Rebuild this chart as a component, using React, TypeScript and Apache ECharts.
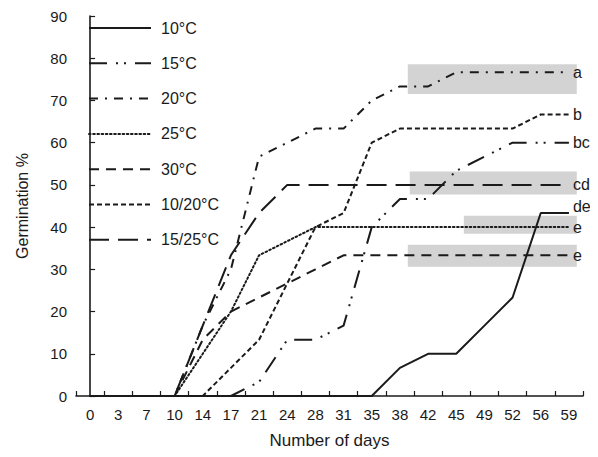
import React, { useEffect, useRef } from "react";
import * as echarts from "echarts";

const days = ["0", "3", "7", "10", "14", "17", "21", "24", "28", "31", "35", "38", "42", "45", "49", "52", "56", "59"];
const yTicks = [0, 10, 20, 30, 40, 50, 60, 70, 80, 90];

const t10 = [0, 0, 0, 0, 0, 0, 0, 0, 0, 0, 0, 6.67, 10, 10, 16.67, 23.33, 43.33, 43.33];
const t15 = [0, 0, 0, 0, 0, 0, 3.33, 13.33, 13.33, 16.67, 40, 46.67, 46.67, 53.33, 56.67, 60, 60, 60];
const t20 = [0, 0, 0, 0, 16.67, 30, 56.67, 60, 63.33, 63.33, 70, 73.33, 73.33, 76.67, 76.67, 76.67, 76.67, 76.67];
const t25 = [0, 0, 0, 0, 10, 20, 33.33, 36.67, 40, 40, 40, 40, 40, 40, 40, 40, 40, 40];
const t30 = [0, 0, 0, 0, 13.33, 20, 23.33, 26.67, 30, 33.33, 33.33, 33.33, 33.33, 33.33, 33.33, 33.33, 33.33, 33.33];
const t1020 = [0, 0, 0, 0, 0, 6.67, 13.33, 26.67, 40, 43.33, 60, 63.33, 63.33, 63.33, 63.33, 63.33, 66.67, 66.67];
const t1525 = [0, 0, 0, 0, 16.67, 33.33, 43.33, 50, 50, 50, 50, 50, 50, 50, 50, 50, 50, 50];

const seriesNames = ["10°C", "15°C", "20°C", "25°C", "30°C", "10/20°C", "15/25°C"];
const seriesData = [t10, t15, t20, t25, t30, t1020, t1525];
const letters = ["de", "bc", "a", "e", "e", "b", "cd"];

// grey highlight boxes: [xStart, xEnd] in category index units, [yLow, yHigh] in %
const boxX = [
  [11.28, 17.28],
  [11.35, 17.28],
  [13.27, 17.28],
  [11.28, 17.28],
];
const boxY = [
  [71.5, 78.6],
  [47.7, 53.2],
  [38.4, 42.7],
  [30.6, 35.8],
];

const FONT = "'Liberation Sans', Arial, Helvetica, sans-serif";
const INK = "#1a1a1a";

const dashes: (number[] | string)[] = [
  "solid",
  [18, 9, 2, 6, 2, 9],
  [9, 7, 2, 7],
  [1.6, 2.6],
  [10, 7],
  [5, 3],
  [20, 9],
];
const labelOffsets = [
  [0, -7],
  [0, 0],
  [0, 0],
  [0, 0],
  [0, 0],
  [0, 0],
  [0, 0],
];

export default function App() {
  const ref = useRef<HTMLDivElement>(null);
  useEffect(() => {
    if (!ref.current) return;
    const chart = echarts.init(ref.current, null, { renderer: "svg" });
    const lineSeries = seriesNames.map((name, i) => ({
      name,
      type: "line",
      xAxisIndex: 0,
      yAxisIndex: 0,
      data: seriesData[i],
      symbol: "none",
      z: 2,
      lineStyle: {
        color: INK,
        width: 2,
        type: dashes[i],
        cap: i === 3 ? "round" : "butt",
      },
      itemStyle: { color: INK },
      endLabel: {
        show: true,
        formatter: letters[i],
        color: INK,
        fontFamily: FONT,
        fontSize: 16,
        distance: 4,
        offset: labelOffsets[i],
      },
    }));
    chart.setOption({
      animation: false,
      backgroundColor: "#ffffff",
      grid: { left: 76, right: 15, top: 16, bottom: 61, containLabel: false },
      legend: {
        orient: "vertical",
        left: 88,
        top: 20,
        padding: 0,
        itemWidth: 62,
        itemHeight: 16,
        itemGap: 19.3,
        data: seriesNames,
        itemStyle: { opacity: 0 },
        textStyle: {
          fontFamily: FONT,
          fontSize: 16,
          lineHeight: 16,
          color: INK,
          padding: [0, 0, 0, 5],
        },
      },
      xAxis: [
        {
          type: "category",
          data: days,
          boundaryGap: true,
          name: "Number of days",
          nameLocation: "middle",
          nameGap: 36,
          nameTextStyle: { fontFamily: FONT, fontSize: 17, color: INK },
          axisLine: { lineStyle: { color: INK, width: 1.6 } },
          axisTick: { show: true, inside: true, length: 5, lineStyle: { color: INK, width: 1.2 } },
          axisLabel: { fontFamily: FONT, fontSize: 15, color: INK, margin: 11, interval: 0 },
          splitLine: { show: false },
        },
        {
          type: "value",
          min: -0.5,
          max: 17.5,
          show: false,
        },
      ],
      yAxis: {
        type: "value",
        min: yTicks[0],
        max: yTicks[yTicks.length - 1],
        interval: 10,
        name: "Germination %",
        nameLocation: "middle",
        nameGap: 46,
        nameTextStyle: { fontFamily: FONT, fontSize: 16, color: INK },
        axisLine: { show: true, lineStyle: { color: INK, width: 1.6 } },
        axisTick: { show: true, inside: true, length: 5, lineStyle: { color: INK, width: 1.2 } },
        axisLabel: { fontFamily: FONT, fontSize: 15, color: INK, margin: 9 },
        splitLine: { show: false },
      },
      series: [
        ...lineSeries,
        {
          name: "boxes",
          type: "line",
          xAxisIndex: 1,
          yAxisIndex: 0,
          data: [],
          z: 10,
          silent: true,
          markArea: {
            silent: true,
            itemStyle: { color: "rgba(182,182,182,0.6)" },
            data: boxX.map((bx, i) => [
              { coord: [bx[0], boxY[i][0]] },
              { coord: [bx[1], boxY[i][1]] },
            ]),
          },
        },
      ],
    });
    return () => chart.dispose();
  }, []);
  return <div ref={ref} style={{ width: 598, height: 457, margin: -8 }} />;
}
